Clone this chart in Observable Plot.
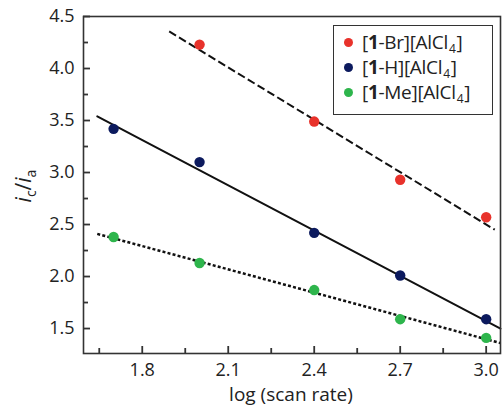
<!DOCTYPE html>
<html><head><meta charset="utf-8">
<script src="https://cdn.jsdelivr.net/npm/d3@7"></script>
<script src="https://cdn.jsdelivr.net/npm/@observablehq/plot@0.6"></script>
<style>
body{margin:0;background:#fff;font-family:"Open Sans",sans-serif;}
#wrap{position:relative;width:502px;height:408px;}
#legend{position:absolute;left:333px;top:25px;width:160px;height:90px;border:1.5px solid #333;background:#fff;font-size:19px;color:#222;box-sizing:border-box;padding-top:4px;letter-spacing:-0.3px;}
#legend div{height:25px;line-height:25px;white-space:nowrap;}
#legend .dot{display:inline-block;width:9px;height:9px;border-radius:50%;margin:0 9px 0 10px;vertical-align:middle;position:relative;top:-1px;}
#legend sub{font-size:12px;vertical-align:-4px;line-height:0;margin:0 1px;}
</style></head>
<body><div id="wrap"></div>
<script>
const xValues = [1.7, 2.0, 2.4, 2.7, 3.0];
const brValues = [null, 4.23, 3.49, 2.93, 2.57];
const hValues = [3.42, 3.10, 2.42, 2.01, 1.59];
const meValues = [2.38, 2.13, 1.87, 1.59, 1.41];
const seriesNames = ["[1-Br][AlCl4]", "[1-H][AlCl4]", "[1-Me][AlCl4]"];
const colors = ["#e8322b", "#0c1a5e", "#2eb54c"];
// fit line endpoints
const brFitX = [1.894, 3.03], brFitY = [4.356, 2.45];
const hFitX = [1.643, 3.05], hFitY = [3.54, 1.50];
const meFitX = [1.643, 3.05], meFitY = [2.41, 1.36];
const xTicks = [1.8, 2.1, 2.4, 2.7, 3.0];
const xMinor = [1.65, 1.95, 2.25, 2.55, 2.85];
const yTicks = [1.5, 2.0, 2.5, 3.0, 3.5, 4.0, 4.5];
const yMinor = [1.75, 2.25, 2.75, 3.25, 3.75, 4.25];
const xDomain = [1.595, 3.05];
const yDomain = [1.26, 4.5];

const pts = [];
[brValues, hValues, meValues].forEach((vals, s) => vals.forEach((v, i) => { if (v != null) pts.push({x: xValues[i], y: v, s: seriesNames[s]}); }));
const fit = (xs, ys) => xs.map((x, i) => ({x, y: ys[i]}));

const W = 502, H = 408, mL = 83, mT = 16, mR = 2, mB = 55;
const fw = W - mL - mR, fh = H - mT - mB;
// tick lengths in pixels converted to data units
const yPer = (yDomain[1] - yDomain[0]) / fh, xPer = (xDomain[1] - xDomain[0]) / fw;

const plot = Plot.plot({
  width: W, height: H,
  marginLeft: mL, marginTop: mT, marginRight: mR, marginBottom: mB,
  style: {fontFamily: "'Open Sans', sans-serif", fontSize: "18px", color: "#222", background: "#fff"},
  x: {domain: xDomain},
  y: {domain: yDomain},
  color: {domain: seriesNames, range: colors},
  marks: [
    Plot.axisX(xTicks, {tickSize: 0, tickPadding: 10, fontSize: 18, tickFormat: d => d.toFixed(1), label: null}),
    Plot.axisY(yTicks, {tickSize: 0, tickPadding: 9, fontSize: 18, tickFormat: d => d.toFixed(1), label: null}),
    Plot.ruleX(xTicks, {x: d => d, y1: yDomain[0], y2: yDomain[0] + 7 * yPer, stroke: "#333", strokeWidth: 1.8}),
    Plot.ruleX(xMinor, {x: d => d, y1: yDomain[0], y2: yDomain[0] + 5 * yPer, stroke: "#333", strokeWidth: 1.8}),
    Plot.ruleY(yTicks, {y: d => d, x1: xDomain[0], x2: xDomain[0] + 7 * xPer, stroke: "#333", strokeWidth: 1.8}),
    Plot.ruleY(yMinor, {y: d => d, x1: xDomain[0], x2: xDomain[0] + 5 * xPer, stroke: "#333", strokeWidth: 1.8}),
    Plot.line(fit(brFitX, brFitY), {x: "x", y: "y", stroke: "#111", strokeWidth: 2, strokeDasharray: "8,3.5", strokeLinecap: "butt"}),
    Plot.line(fit(hFitX, hFitY), {x: "x", y: "y", stroke: "#111", strokeWidth: 2}),
    Plot.line(fit(meFitX, meFitY), {x: "x", y: "y", stroke: "#111", strokeWidth: 2.5, strokeDasharray: "3,2.2", strokeLinecap: "butt"}),
    Plot.dot(pts, {x: "x", y: "y", fill: "s", r: 5.2}),
    Plot.frame({stroke: "#333", strokeWidth: 1.6})
  ]
});
const svg = d3.select(plot);
svg.append("text").attr("x", 291).attr("y", 401).attr("text-anchor", "middle")
  .attr("font-size", 19).attr("fill", "#222").text("log (scan rate)");
const yl = svg.append("text").attr("transform", "translate(31,186) rotate(-90)").attr("text-anchor", "middle")
  .attr("font-size", 21).attr("fill", "#222");
yl.append("tspan").attr("font-style", "italic").text("i");
yl.append("tspan").attr("font-size", 14).attr("dy", 5).text("c");
yl.append("tspan").attr("dy", -5).text("/");
yl.append("tspan").attr("font-style", "italic").text("i");
yl.append("tspan").attr("font-size", 14).attr("dy", 5).text("a");
document.getElementById("wrap").appendChild(plot);

const leg = document.createElement("div");
leg.id = "legend";
const parts = ["Br", "H", "Me"];
parts.forEach((p, i) => {
  const row = document.createElement("div");
  row.innerHTML = `<span class="dot" style="background:${colors[i]}"></span>[<b>1</b>-${p}][AlCl<sub>4</sub>]`;
  leg.appendChild(row);
});
document.getElementById("wrap").appendChild(leg);
</script></body></html>
